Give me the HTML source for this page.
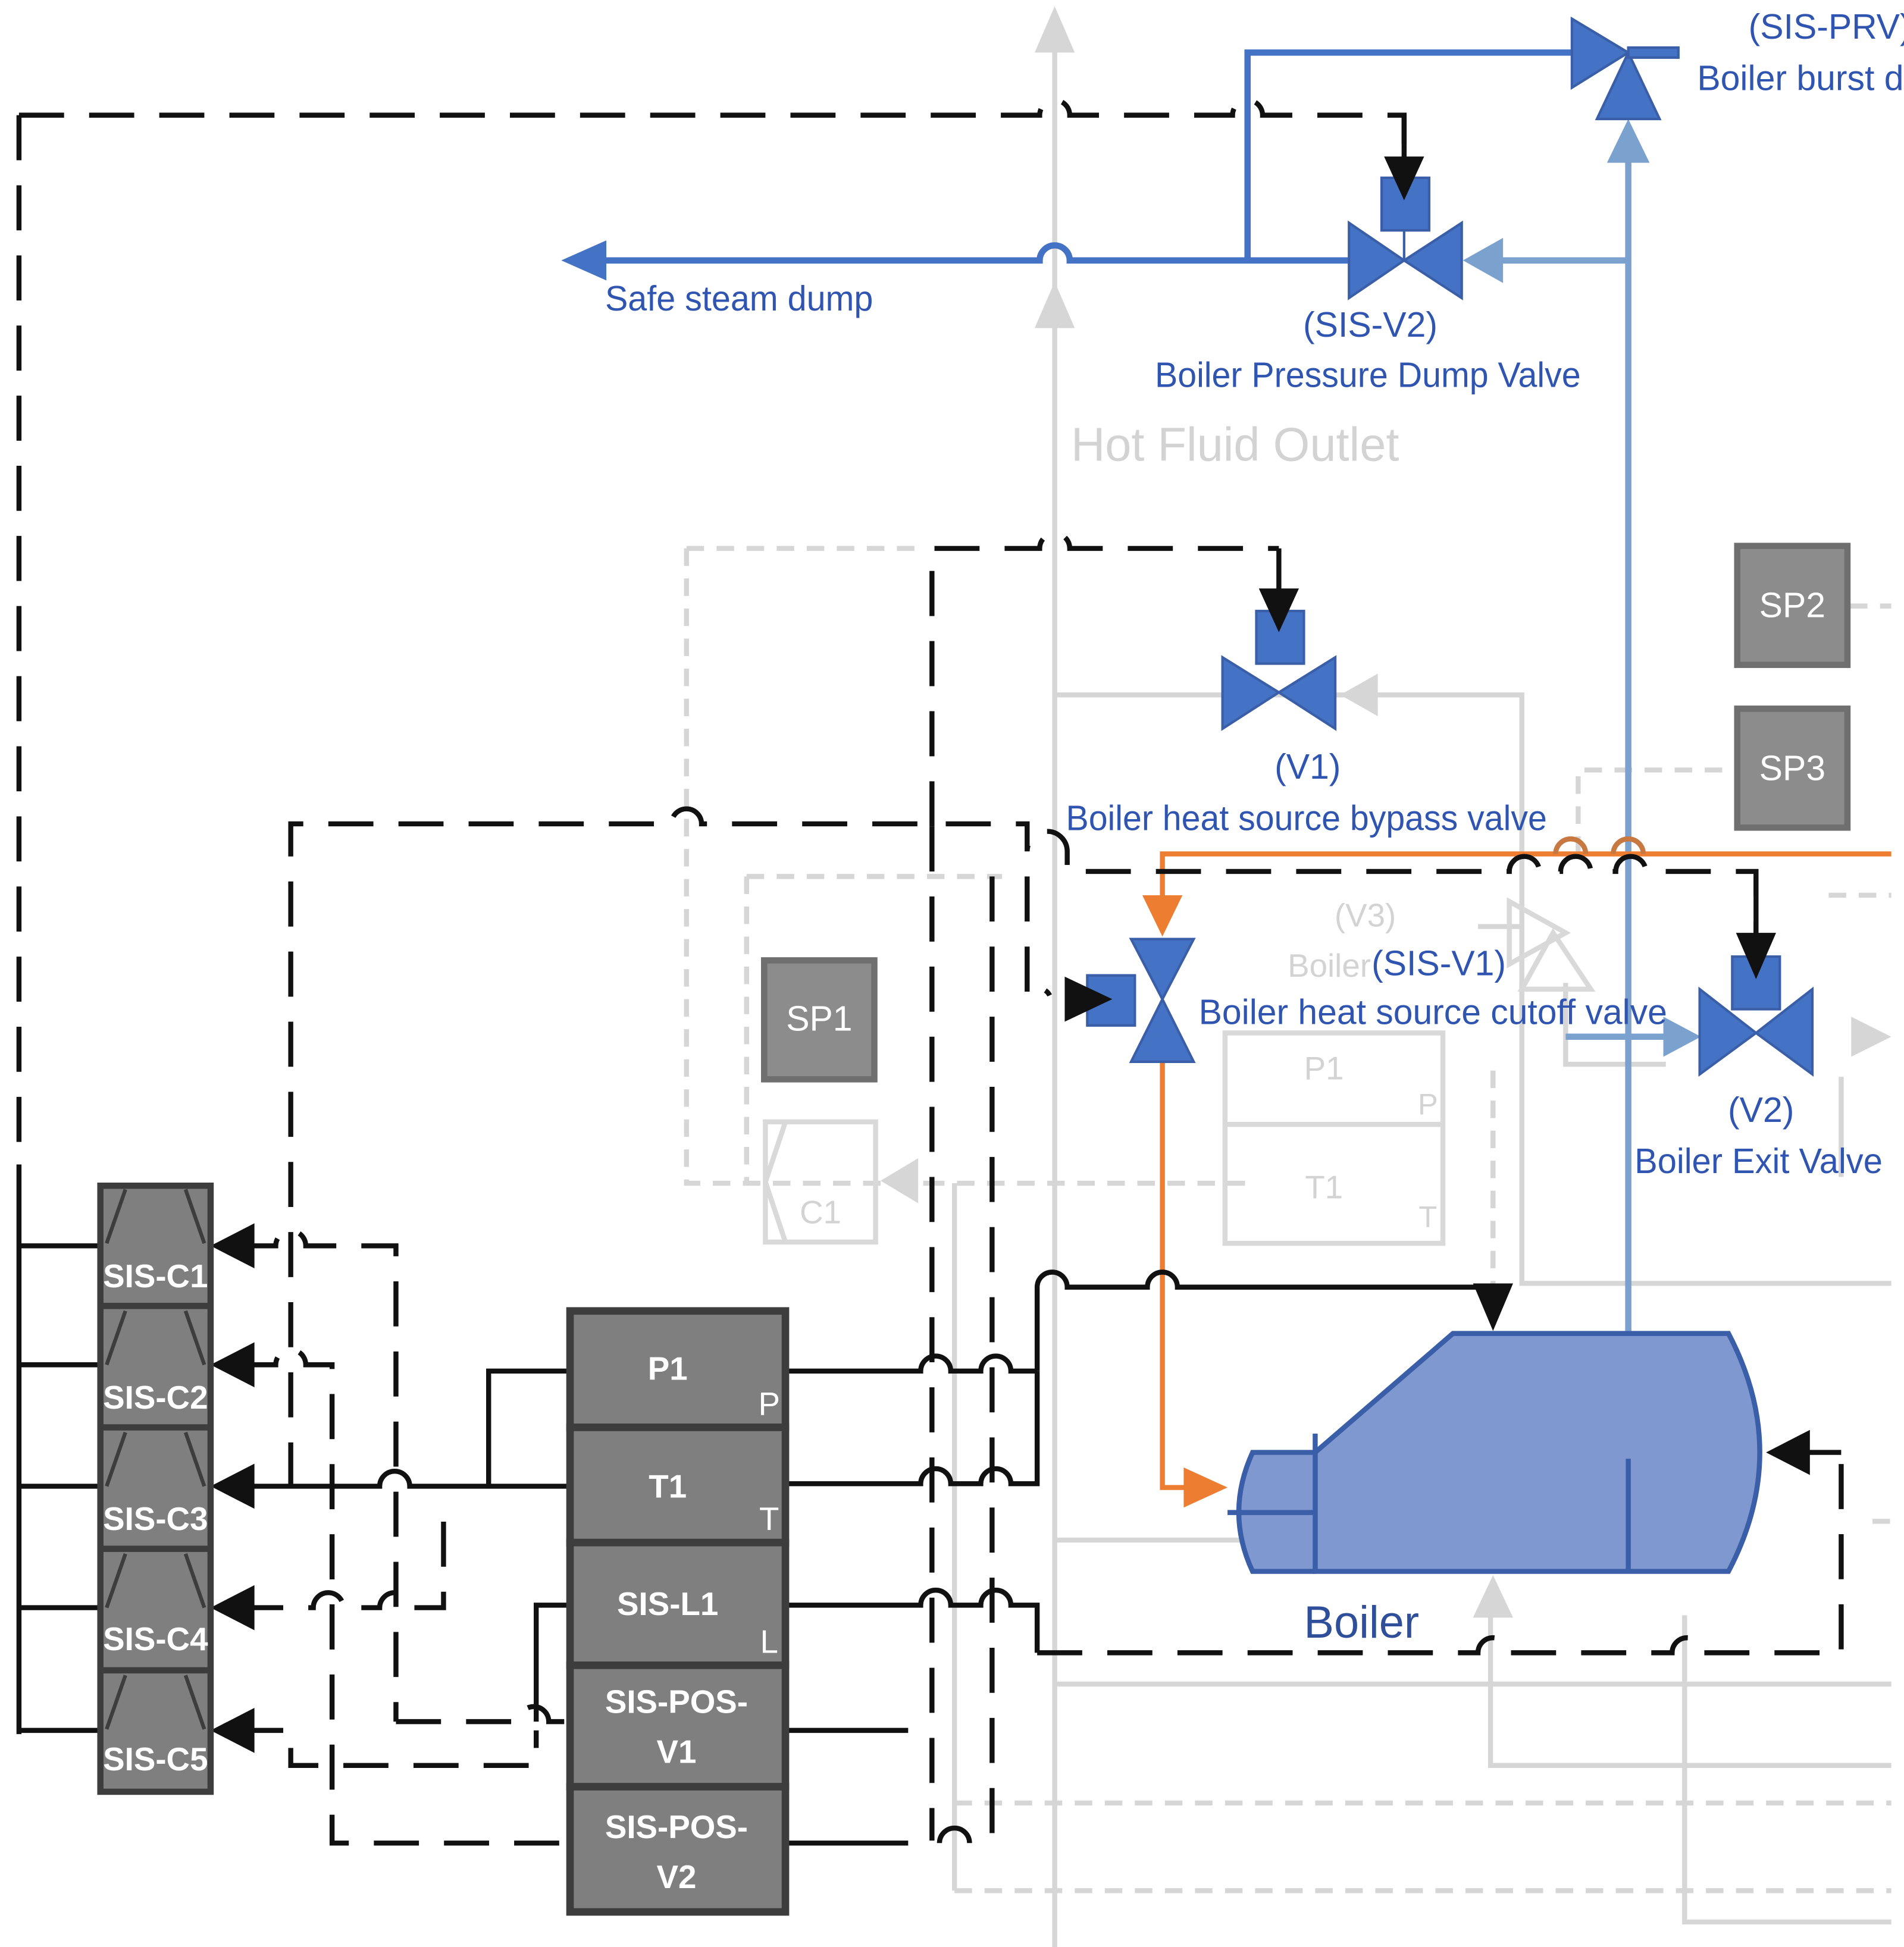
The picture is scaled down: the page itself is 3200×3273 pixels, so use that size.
<!DOCTYPE html>
<html><head><meta charset="utf-8"><style>
html,body{margin:0;padding:0;background:#fff}
svg{display:block}
text{font-family:"Liberation Sans Narrow","Liberation Sans",sans-serif}
</style></head><body>
<svg width="3200" height="3273" viewBox="0 0 1520 1555" xmlns="http://www.w3.org/2000/svg">
<rect width="1520" height="1555" fill="#fff"/>
<!-- light grey background process lines -->
<g stroke="#d6d6d6" stroke-width="4" fill="none">
<line x1="842" y1="30" x2="842" y2="1555"/>
<polyline points="842,555 1215,555 1215,1025 1510,1025"/>
<polyline points="842,1230 1215,1230"/>
<polyline points="1250,785 1250,850 1330,850"/>
<polyline points="1180,740 1215,740"/>
<polyline points="1190,1290 1190,1410 1510,1410"/>
<polyline points="842,1345 1510,1345"/>
<polyline points="1345,1290 1345,1535 1510,1535"/>
<polyline points="1470,860 1470,940"/>
<polyline points="762,945 762,1510"/>
</g>
<g stroke="#d6d6d6" stroke-width="4" fill="none" stroke-dasharray="14,10">
<polyline points="548,438 548,945 740,945"/>
<polyline points="548,438 740,438"/>
<polyline points="596,700 596,945"/>
<polyline points="596,700 800,700"/>
<polyline points="740,945 1000,945"/>
<polyline points="1192,855 1192,1030"/>
<polyline points="1260,682 1260,615 1385,615"/>
<polyline points="1477,484 1510,484"/>
<polyline points="1460,715 1510,715 M1460,715 1460,940 1510,940"/>
<polyline points="762,1440 1510,1440"/>
<polyline points="762,1510 1510,1510"/>
<polyline points="1495,1215 1510,1215 M1495,1215 1495,1310 1510,1310"/>
</g>
<g fill="#d6d6d6">
<polygon points="826,42 842,5 858,42"/>
<polygon points="826,262 842,225 858,262"/>
<polygon points="1100,538 1070,555 1100,572"/>
<polygon points="733,925 703,943 733,961"/>
<polygon points="1176,1292 1192,1258 1208,1292"/>
<polygon points="1478,812 1510,828 1478,844"/>
</g>
<!-- grey ghost items -->
<g stroke="#d9d9d9" stroke-width="4" fill="none">
<rect x="978" y="825" width="174" height="168"/>
<line x1="978" y1="898" x2="1152" y2="898"/>
<rect x="611" y="896" width="88" height="96"/>
<polyline points="627,896 611,944 627,992 M683,896 699,944 683,992"/>
<polygon points="1205,720 1250,745 1205,770"/>
<polygon points="1215,790 1240,745 1270,790"/>
</g>
<text x="1090" y="740" font-size="26" fill="#d3d3d3" text-anchor="middle">(V3)</text>
<text x="1028" y="780" font-size="26" fill="#d3d3d3">Boiler</text>
<text x="1057" y="862" font-size="26" fill="#d3d3d3" text-anchor="middle">P1</text>
<text x="1057" y="957" font-size="26" fill="#d3d3d3" text-anchor="middle">T1</text>
<text x="1140" y="890" font-size="24" fill="#d3d3d3" text-anchor="middle">P</text>
<text x="1140" y="980" font-size="24" fill="#d3d3d3" text-anchor="middle">T</text>
<text x="655" y="977" font-size="26" fill="#d3d3d3" text-anchor="middle">C1</text>
<text x="855" y="368" font-size="38" fill="#d3d3d3" textLength="262" lengthAdjust="spacingAndGlyphs">Hot Fluid Outlet</text>

<!-- blue steam lines -->
<g stroke="#4472c4" stroke-width="5" fill="none">
<polyline points="996,208 996,42 1258,42"/>
<path d="M480,208 H830 a12,12 0 0 1 24,0 H1078"/>
</g>
<polygon points="448,208 484,192 484,224" fill="#4472c4"/>
<g stroke="#729fcf" stroke-width="5" fill="none" stroke-opacity="1">
<line x1="1300" y1="120" x2="1300" y2="1068" stroke="#7ba1cf"/>
<line x1="1195" y1="208" x2="1300" y2="208" stroke="#7ba1cf"/>
<line x1="1250" y1="828" x2="1330" y2="828" stroke="#7ba1cf"/>
</g>
<polygon points="1168,208 1200,190 1200,226" fill="#7ba1cf"/>
<polygon points="1283,130 1300,95 1317,130" fill="#7ba1cf"/>
<polygon points="1328,812 1358,828 1328,844" fill="#7ba1cf"/>
<!-- PRV -->
<g fill="#4472c4" stroke="#3a5fa8" stroke-width="2">
<polygon points="1255,15 1300,42 1255,70"/>
<polygon points="1275,95 1300,42 1325,95"/>
<rect x="1300" y="38" width="40" height="8"/>
</g>
<!-- SIS-V2 valve -->
<g fill="#4472c4" stroke="#3a5fa8" stroke-width="2">
<polygon points="1077,178 1121,208 1077,238"/>
<polygon points="1167,178 1121,208 1167,238"/>
<rect x="1103" y="142" width="38" height="42"/>
<line x1="1121" y1="184" x2="1121" y2="208"/>
</g>
<!-- V1 valve -->
<g fill="#4472c4" stroke="#3a5fa8" stroke-width="2">
<polygon points="976,525 1021,553 976,582"/>
<polygon points="1066,525 1021,553 1066,582"/>
<rect x="1003" y="488" width="38" height="42"/>
</g>
<!-- V2 valve -->
<g fill="#4472c4" stroke="#3a5fa8" stroke-width="2">
<polygon points="1357,790 1402,825 1357,858"/>
<polygon points="1447,790 1402,825 1447,858"/>
<rect x="1383" y="764" width="38" height="42"/>
</g>
<!-- orange line -->
<g stroke="#ed7d31" stroke-width="4" fill="none">
<polyline points="1510,682 928,682 928,720"/>
<polyline points="928,848 928,1188 950,1188"/>
</g>
<path d="M1242,682 a12,12 0 0 1 24,0 M1288,682 a12,12 0 0 1 24,0" stroke="#c87941" stroke-width="4" fill="none"/>
<polygon points="912,715 928,748 944,715" fill="#ed7d31"/>
<polygon points="945,1172 980,1188 945,1204" fill="#ed7d31"/>
<!-- SIS-V1 valve vertical -->
<g fill="#4472c4" stroke="#3a5fa8" stroke-width="2">
<polygon points="903,750 928,798 953,750"/>
<polygon points="903,848 928,798 953,848"/>
<rect x="868" y="779" width="38" height="40"/>
</g>
<!-- Boiler -->
<path d="M1160,1065 H1380 Q1430,1160 1380,1255 H1050 V1160 Z" fill="#7f98d0" stroke="#3a5fa8" stroke-width="4"/>
<path d="M1050,1160 H1000 Q978,1208 1000,1255 H1050" fill="#7f98d0" stroke="#3a5fa8" stroke-width="4"/>
<g stroke="#3a5fa8" stroke-width="4"><line x1="1050" y1="1145" x2="1050" y2="1255"/><line x1="1300" y1="1165" x2="1300" y2="1255"/><line x1="980" y1="1208" x2="1050" y2="1208"/></g>
<text x="1087" y="1308" font-size="36" fill="#2f4f9a" text-anchor="middle">Boiler</text>

<!-- SP boxes -->
<g fill="#8c8c8c" stroke="#6f6f6f" stroke-width="5">
<rect x="1387" y="436" width="88" height="95"/>
<rect x="1387" y="566" width="88" height="95"/>
<rect x="610" y="767" width="88" height="95"/>
</g>
<g font-size="28" fill="#fff" text-anchor="middle">
<text x="1431" y="493">SP2</text><text x="1431" y="623">SP3</text><text x="654" y="823">SP1</text>
</g>

<!-- black control lines -->
<g stroke="#111" stroke-width="4" fill="none">
<path d="M15,92 H830 a12,12 0 0 1 24,0 H984 a12,12 0 0 1 24,0 H1121 V125" stroke-dasharray="36,20"/>
<line x1="1121" y1="92" x2="1121" y2="130"/>
<path d="M15,92 V930" stroke-dasharray="36,20"/>
<polyline points="15,930 15,1385"/>
<path d="M744,660 V438 H830 a12,12 0 0 1 24,0 H1021" stroke-dasharray="36,20"/>
<line x1="1021" y1="438" x2="1021" y2="475"/>
<path d="M744,660 V1470" stroke-dasharray="36,20"/>
<path d="M232,1188 V658 H536 a12,12 0 0 1 24,0 H744" stroke-dasharray="36,20"/>
<path d="M755,658 H820 V680 a16,16 0 0 1 32,0 V696 H1205 a12,12 0 0 1 24,0 H1246 a12,12 0 0 1 24,0 H1290 a12,12 0 0 1 24,0 H1402 V745" stroke-dasharray="36,20"/>
<line x1="1402" y1="700" x2="1402" y2="750"/>
<path d="M820,700 V795 a10,10 0 0 1 18,0" stroke-dasharray="36,20"/>
<path d="M792,700 V1470" stroke-dasharray="36,20"/>
<path d="M828,1095 V1028 a12,12 0 0 1 24,0 H916 a12,12 0 0 1 24,0 H1192 V1040"/>
<!-- P1 out -->
<path d="M627,1095 H735 a12,12 0 0 1 24,0 H783 a12,12 0 0 1 24,0 H828"/>
<path d="M627,1185 H735 a12,12 0 0 1 24,0 H783 a12,12 0 0 1 24,0 H828 V1095"/>
<path d="M627,1282 H735 a12,12 0 0 1 24,0 H783 a12,12 0 0 1 24,0 H828 V1320"/>
<path d="M828,1320 H1180 a12,12 0 0 1 24,0 H1335 a12,12 0 0 1 24,0 H1470 V1160" stroke-dasharray="36,20"/>
<line x1="1440" y1="1160" x2="1470" y2="1160"/>
<path d="M627,1382 H725"/>
<path d="M627,1472 H725 M750,1472 a12,12 0 0 1 24,0"/>
<!-- left side -->
<line x1="15" y1="995" x2="80" y2="995"/><line x1="15" y1="1090" x2="80" y2="1090"/><line x1="15" y1="1187" x2="80" y2="1187"/><line x1="15" y1="1284" x2="80" y2="1284"/><line x1="15" y1="1382" x2="80" y2="1382"/>
<path d="M190,995 H220 a12,12 0 0 1 24,0 H316 V1375" stroke-dasharray="36,20"/>
<path d="M190,1090 H220 a12,12 0 0 1 24,0 H265 V1472 H455" stroke-dasharray="36,20"/>
<path d="M190,1187 H303 a12,12 0 0 1 24,0 H455"/>
<path d="M390,1187 V1095 H455"/>
<path d="M190,1284 H250 a12,12 0 0 1 24,0 H303 a12,12 0 0 1 24,0 H354 V1210" stroke-dasharray="36,20"/>
<path d="M316,1375 H414 a12,12 0 0 1 24,0 H455" stroke-dasharray="36,20"/>
<path d="M428,1375 V1282 H455"/>
<path d="M190,1382 H232 V1410 H428 V1382" stroke-dasharray="36,20"/>
</g>
<!-- black arrowheads -->
<g fill="#111">
<polygon points="1105,125 1121,160 1137,125"/>
<polygon points="1005,470 1021,505 1037,470"/>
<polygon points="1386,745 1402,782 1418,745"/>
<polygon points="850,780 888,798 850,816"/>
<polygon points="1176,1025 1192,1063 1208,1025"/>
<polygon points="1445,1142 1410,1160 1445,1178"/>
<polygon points="203,977 168,995 203,1013"/>
<polygon points="203,1072 168,1090 203,1108"/>
<polygon points="203,1169 168,1187 203,1205"/>
<polygon points="203,1266 168,1284 203,1302"/>
<polygon points="203,1364 168,1382 203,1400"/>
</g>
<!-- SIS-C stack -->
<g stroke="#3d3d3d" stroke-width="5">
<rect x="80" y="947" width="88" height="484" fill="#7f7f7f"/>
<g stroke-width="3" fill="none">
<path d="M100,950 L85,993 M148,950 L163,993 M100,1047 L85,1090 M148,1047 L163,1090 M100,1144 L85,1187 M148,1144 L163,1187 M100,1241 L85,1284 M148,1241 L163,1284 M100,1338 L85,1381 M148,1338 L163,1381"/>
</g>
<line x1="80" y1="1043" x2="168" y2="1043"/><line x1="80" y1="1140" x2="168" y2="1140"/><line x1="80" y1="1237" x2="168" y2="1237"/><line x1="80" y1="1334" x2="168" y2="1334"/>
</g>
<g font-size="26" font-weight="bold" fill="#fff" text-anchor="middle">
<text x="124" y="1028">SIS-C1</text><text x="124" y="1125">SIS-C2</text><text x="124" y="1222">SIS-C3</text><text x="124" y="1318">SIS-C4</text><text x="124" y="1414">SIS-C5</text>
</g>
<!-- center stack -->
<g fill="#7f7f7f" stroke="#3d3d3d" stroke-width="6">
<rect x="455" y="1047" width="172" height="93"/>
<rect x="455" y="1140" width="172" height="92"/>
<rect x="455" y="1232" width="172" height="98"/>
<rect x="455" y="1330" width="172" height="97"/>
<rect x="455" y="1427" width="172" height="100"/>
</g>
<g font-size="26" font-weight="bold" fill="#fff" text-anchor="middle">
<text x="533" y="1102">P1</text><text x="533" y="1196">T1</text><text x="533" y="1290">SIS-L1</text>
<text x="540" y="1368">SIS-POS-</text><text x="540" y="1408">V1</text>
<text x="540" y="1468">SIS-POS-</text><text x="540" y="1508">V2</text>
</g>
<g font-size="26" fill="#fff" text-anchor="middle"><text x="614" y="1130">P</text><text x="614" y="1222">T</text><text x="614" y="1320">L</text></g>

<!-- blue labels -->
<g font-size="28" fill="#2f55b0">
<text x="483" y="248" textLength="214" lengthAdjust="spacingAndGlyphs">Safe steam dump</text>
<text x="1094" y="269" text-anchor="middle">(SIS-V2)</text>
<text x="922" y="309" textLength="340" lengthAdjust="spacingAndGlyphs">Boiler Pressure Dump Valve</text>
<text x="1396" y="31">(SIS-PRV)</text>
<text x="1355" y="72">Boiler burst d</text>
<text x="1044" y="622" text-anchor="middle">(V1)</text>
<text x="851" y="663" textLength="384" lengthAdjust="spacingAndGlyphs">Boiler heat source bypass valve</text>
<text x="1095" y="779">(SIS-V1)</text>
<text x="957" y="818" textLength="374" lengthAdjust="spacingAndGlyphs">Boiler heat source cutoff valve</text>
<text x="1406" y="896" text-anchor="middle">(V2)</text>
<text x="1305" y="937" textLength="198" lengthAdjust="spacingAndGlyphs">Boiler Exit Valve</text>
</g>
</svg>
</body></html>
